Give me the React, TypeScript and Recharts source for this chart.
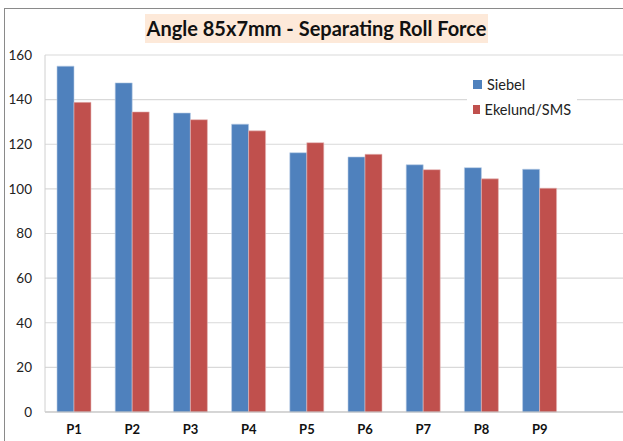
import React from "react";
import { BarChart, Bar, XAxis, YAxis, CartesianGrid, Legend } from "recharts";

const categories = ["P1", "P2", "P3", "P4", "P5", "P6", "P7", "P8", "P9", ""];
const siebel = [155, 147.5, 134, 129, 116.2, 114.3, 110.8, 109.5, 108.8, null];
const ekelund = [138.8, 134.5, 131, 126, 120.7, 115.5, 108.6, 104.5, 100.3, null];
const yTicks = [0, 20, 40, 60, 80, 100, 120, 140, 160];
const seriesOrder = ["siebel", "ekelund"];

const data = categories.map((c, i) => ({ name: c, siebel: siebel[i], ekelund: ekelund[i] }));

const FONT = "Lato, 'Open Sans', sans-serif";

const renderLegend = (props: any) => {
  const payload = [...(props.payload || [])].sort(
    (a: any, b: any) => seriesOrder.indexOf(a.dataKey) - seriesOrder.indexOf(b.dataKey)
  );
  return (
    <div style={{ background: "#fff", padding: "4px 6px", width: 98, fontFamily: FONT }}>
      {payload.map((p: any, i: number) => (
        <div key={i} style={{ display: "flex", alignItems: "center", height: 25, fontSize: 14.5, color: "#222", whiteSpace: "nowrap" }}>
          <span style={{ display: "inline-block", width: 9, height: 9, background: p.color, marginRight: 5 }} />
          {p.value}
        </div>
      ))}
    </div>
  );
};

export default function App() {
  return (
    <div style={{ position: "absolute", left: 0, top: 0, width: 623, height: 441, overflow: "hidden", background: "#fff" }}>
      <div
        style={{
          position: "absolute",
          left: 4,
          top: 8,
          width: 640,
          height: 460,
          borderLeft: "1.5px solid #8a8a8a",
          borderTop: "1.5px solid #8a8a8a",
        }}
      />
      <div
        style={{
          position: "absolute",
          left: 145,
          top: 14,
          width: 343,
          height: 29,
          background: "#fde9d9",
          fontFamily: FONT,
          fontWeight: 700,
          fontSize: 20,
          color: "#111",
          lineHeight: "29px",
          textAlign: "center",
          whiteSpace: "nowrap",
        }}
      >
        Angle 85x7mm - Separating Roll Force
      </div>
      <div style={{ position: "absolute", left: 0, top: 0 }}>
        <BarChart
          width={640}
          height={441}
          data={data}
          margin={{ top: 55, right: 13, bottom: 0, left: 0 }}
          barGap={0}
          barCategoryGap={12}
        >
          <CartesianGrid horizontal={true} vertical={false} stroke="#d9d9d9" strokeWidth={1.2} />
          <XAxis
            dataKey="name"
            height={29}
            tickLine={false}
            tickSize={0}
            tickMargin={13}
            axisLine={{ stroke: "#bfbfbf" }}
            tick={{ fontFamily: FONT, fontSize: 13, fontWeight: 700, fill: "#111" }}
            interval={0}
          />
          <YAxis
            width={45}
            domain={[0, 160]}
            ticks={yTicks}
            tickLine={false}
            tickSize={0}
            tickMargin={13}
            axisLine={{ stroke: "#d0d0d0" }}
            tick={{ fontFamily: FONT, fontSize: 13.5, fill: "#222" }}
          />
          <Legend
            layout="vertical"
            verticalAlign="middle"
            align="center"
            content={renderLegend}
            wrapperStyle={{ position: "absolute", left: 467, top: 68, width: 110 }}
          />
          <Bar dataKey="siebel" name="Siebel" fill="#4f81bd" stroke="#b9cde5" strokeWidth={0.6} isAnimationActive={false} />
          <Bar dataKey="ekelund" name="Ekelund/SMS" fill="#c0504d" stroke="#e6b9b8" strokeWidth={0.6} isAnimationActive={false} />
        </BarChart>
      </div>
    </div>
  );
}
